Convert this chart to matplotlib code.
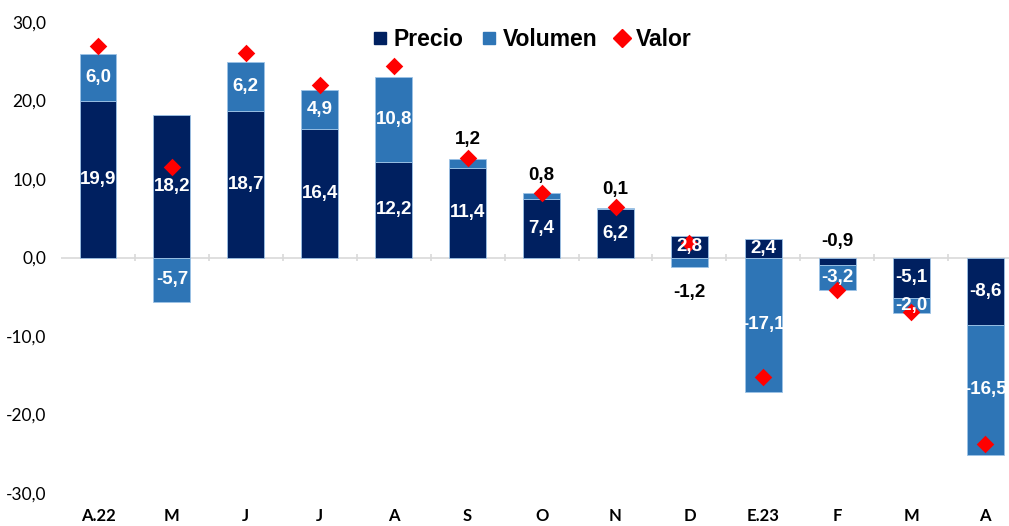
import numpy as np
import matplotlib.pyplot as plt
from matplotlib.lines import Line2D

meses = ["A.22", "M", "J", "J", "A", "S", "O", "N", "D", "E.23", "F", "M", "A"]
precio = [19.9, 18.2, 18.7, 16.4, 12.2, 11.4, 7.4, 6.2, 2.8, 2.4, -0.9, -5.1, -8.6]
volumen = [6.0, -5.7, 6.2, 4.9, 10.8, 1.2, 0.8, 0.1, -1.2, -17.1, -3.2, -2.0, -16.5]
valor = [27.0, 11.5, 26.0, 22.0, 24.4, 12.7, 8.2, 6.4, 1.8, -15.2, -4.1, -7.0, -23.7]

c_precio = "#002060"
c_vol = "#2E75B6"

fig = plt.figure(figsize=(10.09, 5.26), dpi=100)
ax = fig.add_axes([0.0605, 0.0627, 0.9525, 0.8955])

x = np.arange(len(meses))
precio = np.array(precio)
volumen = np.array(volumen)

# volumen se apila sobre precio si tienen el mismo signo
base_vol = np.where(np.sign(volumen) == np.sign(precio), precio, 0.0)

ax.bar(x, precio, width=0.5, color=c_precio, edgecolor="#9dc3e6", linewidth=0.6, zorder=2)
ax.bar(x, volumen, width=0.5, bottom=base_vol, color=c_vol, edgecolor="#9dc3e6", linewidth=0.6, zorder=2)
ax.scatter(x, valor, marker="D", s=80, color="#ff0000", zorder=4, linewidths=0)

lab = dict(fontfamily="Liberation Sans", fontweight="bold", fontsize=13.5, ha="center", va="center", zorder=5)

for i in x:
    p = precio[i]
    v = volumen[i]
    t = f"{p:.1f}".replace(".", ",")
    if abs(p) >= 2:
        ax.text(i, p / 2, t, color="white", **lab)
    else:
        ax.text(i, 2.1, t, color="black", **lab)
    t = f"{v:.1f}".replace(".", ",")
    if abs(v) >= 2:
        ax.text(i, base_vol[i] + v / 2, t, color="white", **lab)
    elif v > 0:
        ax.text(i, max(base_vol[i] + v, valor[i]) + 2.3, t, color="black", **lab)
    else:
        ax.text(i, base_vol[i] + v - 3.2, t, color="black", **lab)

ax.set_xlim(-0.5, len(meses) - 0.5)
ax.set_ylim(-30, 30)
ax.set_yticks(np.arange(-30, 31, 10))
ax.set_yticklabels([f"{v:.1f}".replace(".", ",") for v in np.arange(-30, 31, 10)],
                   fontfamily="Lato", fontsize=12.5)
ax.set_xticks(x)
ax.set_xticklabels(meses, fontfamily="Lato", fontweight="bold", fontsize=12)
ax.tick_params(axis="both", length=0)
ax.tick_params(axis="x", pad=11)
ax.tick_params(axis="y", pad=10.5)
for s in ax.spines.values():
    s.set_visible(False)

# eje en cero con marcas entre categorias
ax.axhline(0, color="#d9d9d9", linewidth=1.2, zorder=1)
ax.vlines(x[:-1] + 0.5, -0.4, 0.4, color="#d9d9d9", linewidth=1.2, zorder=1)

handles = [
    Line2D([], [], marker="s", linestyle="", color=c_precio, markersize=9),
    Line2D([], [], marker="s", linestyle="", color=c_vol, markersize=9),
    Line2D([], [], marker="D", linestyle="", color="#ff0000", markersize=9),
]
ax.legend(handles, ["Precio", "Volumen", "Valor"], loc="upper center", bbox_to_anchor=(0.488, 1.03),
          ncol=3, frameon=False, handletextpad=0.1, columnspacing=0.6, handlelength=1.0,
          prop=dict(family="Liberation Sans", weight="bold", size=16.5))

fig.savefig("out.png", dpi=100)
